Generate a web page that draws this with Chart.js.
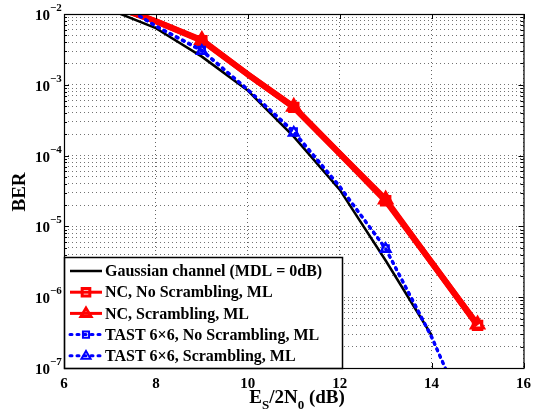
<!DOCTYPE html>
<html>
<head>
<meta charset="utf-8">
<script src="https://cdn.jsdelivr.net/npm/chart.js@4.4.1/dist/chart.umd.min.js"></script>
<style>
  html, body { margin: 0; padding: 0; background: #fff; }
  #wrap { width: 538px; height: 418px; }
</style>
</head>
<body>
<div id="wrap"><canvas id="berChart" width="538" height="418"></canvas></div>
<script>
// ========== DADOS ==========
const snrDb = [7, 8, 9, 10, 11, 12, 13, 14, 15];
const gaussBer     = [1.15e-2, 6.3e-3, 2.5e-3, 8.3e-4, 1.85e-4, 3.3e-5, 3.3e-6, 2.9e-7];
const ncNoScrBer   = [1.35e-2, 7.9e-3, 4.2e-3, 1.4e-3, 4.8e-4, 1.07e-4, 2.3e-5, 3.1e-6, 4.0e-7];
const ncScrBer     = [1.35e-2, 7.9e-3, 4.3e-3, 1.4e-3, 4.9e-4, 1.07e-4, 2.4e-5, 3.1e-6, 4.1e-7];
const tastNoScrBer = [1.7e-2, 6.8e-3, 3.1e-3, 8.6e-4, 2.2e-4, 3.7e-5, 4.9e-6, 2.8e-7, 9e-9];
const tastScrBer   = [1.7e-2, 6.7e-3, 3.0e-3, 8.5e-4, 2.1e-4, 3.6e-5, 4.8e-6, 2.7e-7, 9e-9];
const markerSnr = [9, 11, 13, 15];
const xTicks = [6, 8, 10, 12, 14, 16];
const yDecades = [-2, -3, -4, -5, -6, -7];
const seriesLabels = [
    'Gaussian channel (MDL = 0dB)',
    'NC, No Scrambling, ML',
    'NC, Scrambling, ML',
    'TAST 6\u00d76, No Scrambling, ML',
    'TAST 6\u00d76, Scrambling, ML'
];

const FONT = '"Liberation Serif", "Times New Roman", serif';
const RED = '#ff0000';
const BLUE = '#0000ff';

function toPoints(values) {
    return values.map((v, i) => ({ x: snrDb[i], y: v }));
}

function markerRadius(r) {
    return ctx => (ctx.raw && markerSnr.includes(ctx.raw.x)) ? r : 0;
}

// estilos (também usados pela legenda)
const estilos = [
    { color: '#000', width: 2.5, dash: [], marker: null, legendWidth: 2.5 },
    { color: RED, width: 6, dash: [], marker: 'rect', r: 6, legendWidth: 3 },
    { color: RED, width: 6, dash: [], marker: 'triangle', r: 7, legendWidth: 3 },
    { color: BLUE, width: 3, dash: [2, 5], marker: 'rect', r: 4.5, legendWidth: 3 },
    { color: BLUE, width: 3, dash: [2, 5], marker: 'triangle', r: 6, legendWidth: 3 }
];
const seriesData = [gaussBer, ncNoScrBer, ncScrBer, tastNoScrBer, tastScrBer];

const datasets = seriesData.map((vals, i) => {
    const s = estilos[i];
    const cheio = i === 1 || i === 2;
    return {
        label: seriesLabels[i],
        data: toPoints(vals),
        borderColor: s.color,
        borderWidth: s.width,
        borderDash: s.dash,
        borderCapStyle: s.dash.length ? 'round' : 'butt',
        borderJoinStyle: 'round',
        tension: 0,
        fill: false,
        clip: 0,
        order: 5 - i,
        pointStyle: s.marker || 'circle',
        pointRadius: s.marker ? markerRadius(s.r) : 0,
        pointHoverRadius: 0,
        pointBorderColor: s.color,
        pointBackgroundColor: ctx => (cheio && ctx.raw && ctx.raw.x !== 15) ? RED : 'rgba(255,255,255,0)',
        pointBorderWidth: s.marker ? (i < 3 ? 3 : 2) : 0
    };
});

// ========== DESENHO AUXILIAR ==========
function drawMarker(ctx, style, x, y, r, color, lw) {
    ctx.save();
    ctx.setLineDash([]);
    ctx.strokeStyle = color;
    ctx.lineWidth = lw;
    ctx.beginPath();
    if (style === 'rect') {
        const h = r / Math.SQRT2 * 1.2;
        ctx.rect(x - h, y - h, 2 * h, 2 * h);
    } else if (style === 'triangle') {
        ctx.moveTo(x, y - r);
        ctx.lineTo(x + r * 0.95, y + r * 0.6);
        ctx.lineTo(x - r * 0.95, y + r * 0.6);
        ctx.closePath();
    }
    ctx.stroke();
    ctx.restore();
}

const molduraPlugin = {
    id: 'moldura',
    afterDraw(chart) {
        const ctx = chart.ctx;
        const a = chart.chartArea;
        const xs = chart.scales.x, ys = chart.scales.y;
        ctx.save();

        // ticks para dentro (estilo MATLAB)
        ctx.strokeStyle = '#000';
        ctx.lineWidth = 1;
        ctx.beginPath();
        xTicks.forEach(t => {
            const px = Math.round(xs.getPixelForValue(t)) + 0.5;
            ctx.moveTo(px, a.bottom); ctx.lineTo(px, a.bottom - 5);
            ctx.moveTo(px, a.top); ctx.lineTo(px, a.top + 5);
        });
        yDecades.forEach(e => {
            for (let m = 1; m <= 9; m++) {
                const v = m * Math.pow(10, e - 1);
                if (v < ys.min || v > ys.max) continue;
                const py = Math.round(ys.getPixelForValue(v)) + 0.5;
                const len = m === 1 ? 5 : 3;
                ctx.moveTo(a.left, py); ctx.lineTo(a.left + len, py);
                ctx.moveTo(a.right, py); ctx.lineTo(a.right - len, py);
            }
        });
        ctx.stroke();

        // legenda
        const box = { x: a.left, y: 257, w: 278, h: a.bottom - 257 };
        ctx.fillStyle = '#fff';
        ctx.fillRect(box.x, box.y, box.w, box.h);
        ctx.strokeStyle = '#000';
        ctx.lineWidth = 1.5;
        ctx.strokeRect(box.x + 0.5, box.y + 0.5, box.w, box.h);

        ctx.font = 'bold 16px ' + FONT;
        ctx.textBaseline = 'middle';
        ctx.textAlign = 'left';
        seriesLabels.forEach((lab, i) => {
            const s = estilos[i];
            const cy = 271 + i * 21.2;
            ctx.save();
            ctx.strokeStyle = s.color;
            ctx.lineWidth = s.legendWidth;
            ctx.setLineDash(s.dash);
            ctx.lineCap = s.dash.length ? 'round' : 'butt';
            ctx.beginPath();
            ctx.moveTo(70, cy);
            ctx.lineTo(102, cy);
            ctx.stroke();
            ctx.restore();
            if (s.marker) {
                drawMarker(ctx, s.marker, 86, cy, i < 3 ? s.r * 0.75 : s.r * 0.8, s.color, i < 3 ? 3 : 2);
            }
            ctx.fillStyle = '#000';
            ctx.fillText(lab, 105, cy + 1);
        });

        // moldura
        ctx.strokeStyle = '#000';
        ctx.lineWidth = 1.2;
        ctx.strokeRect(a.left + 0.5, a.top + 0.5, a.right - a.left, a.bottom - a.top);

        // rótulos do eixo y: 10^e
        ctx.fillStyle = '#000';
        yDecades.forEach(e => {
            const py = ys.getPixelForValue(Math.pow(10, e));
            ctx.textBaseline = 'alphabetic';
            ctx.textAlign = 'right';
            ctx.font = 'bold 15px ' + FONT;
            ctx.fillText('10', 50, py + 6);
            ctx.textAlign = 'left';
            ctx.font = 'bold 11px ' + FONT;
            ctx.fillText('\u2212' + Math.abs(e), 50, py - 3);
        });

        // título do eixo y
        ctx.save();
        ctx.translate(20, 192);
        ctx.rotate(-Math.PI / 2);
        ctx.font = 'bold 19px ' + FONT;
        ctx.textAlign = 'center';
        ctx.textBaseline = 'middle';
        ctx.fillText('BER', 0, 0);
        ctx.restore();

        // título do eixo x: E_S/2N_0 (dB)
        const partes = [['E', 19, 0], ['S', 13, 6], ['/2N', 19, 0], ['0', 13, 6], [' (dB)', 19, 0]];
        let total = 0;
        partes.forEach(p => { ctx.font = 'bold ' + p[1] + 'px ' + FONT; total += ctx.measureText(p[0]).width; });
        let cx = 297 - total / 2;
        ctx.textAlign = 'left';
        ctx.textBaseline = 'alphabetic';
        partes.forEach(p => {
            ctx.font = 'bold ' + p[1] + 'px ' + FONT;
            ctx.fillText(p[0], cx, 403 + p[2]);
            cx += ctx.measureText(p[0]).width;
        });
        ctx.restore();
    }
};

// ========== GRÁFICO ==========
const berChart = new Chart(document.getElementById('berChart').getContext('2d'), {
    type: 'line',
    data: { datasets: datasets },
    options: {
        responsive: false,
        animation: false,
        devicePixelRatio: 1,
        layout: { padding: { top: 14, right: 9, left: 0, bottom: 0 } },
        plugins: {
            legend: { display: false },
            tooltip: { enabled: false }
        },
        scales: {
            x: {
                type: 'linear',
                min: 6,
                max: 16,
                afterBuildTicks: scale => { scale.ticks = xTicks.map(v => ({ value: v })); },
                afterFit: scale => { scale.height = 50; },
                ticks: {
                    color: '#000',
                    padding: 7,
                    font: { family: FONT, size: 15, weight: 'bold' }
                },
                grid: { color: 'rgba(0,0,0,0.6)', lineWidth: 1, drawTicks: false },
                border: { display: false, dash: [1, 3] }
            },
            y: {
                type: 'logarithmic',
                min: 1e-7,
                max: 1e-2,
                afterBuildTicks: scale => {
                    const t = [];
                    yDecades.forEach(e => {
                        for (let m = 1; m <= 9; m++) {
                            const v = m * Math.pow(10, e - 1);
                            if (v >= 1e-7 && v <= 1e-2) t.push({ value: v });
                        }
                    });
                    t.push({ value: 1e-2 });
                    scale.ticks = t;
                },
                afterFit: scale => { scale.width = 64; },
                ticks: { display: false },
                grid: { color: 'rgba(0,0,0,0.55)', lineWidth: 1, drawTicks: false },
                border: { display: false, dash: [1, 3] }
            }
        }
    },
    plugins: [molduraPlugin]
});
</script>
</body>
</html>
